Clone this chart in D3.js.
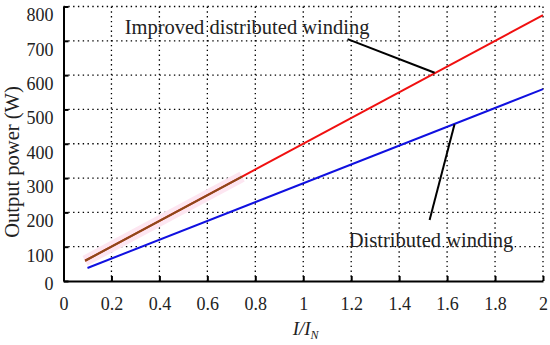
<!DOCTYPE html>
<html>
<head>
<meta charset="utf-8">
<script src="https://cdn.jsdelivr.net/npm/d3@7"></script>
<style>
	body { margin: 0; background: #fff; }
	svg text { font-family: "Liberation Serif", "DejaVu Serif", serif; fill: #222; }
	.grid line { stroke: #000; stroke-width: 1.3; stroke-dasharray: 1.4,3.4; }
	.axis path, .axis line { stroke: #000; stroke-width: 2; }
</style>
</head>
<body>
<div id="chart"></div>
<script>
// x values (I/IN) at both ends of each line, output power in W
var xTicks      = [0, 0.2, 0.4, 0.6, 0.8, 1, 1.2, 1.4, 1.6, 1.8, 2];
var yTicks      = [0, 100, 200, 300, 400, 500, 600, 700, 800];
var improvedX   = [0.09, 2];
var improvedP   = [59, 775];
var overlapX    = [0.09, 0.745];     // brown stretch at the start of the red line
var overlapP    = [59, 304];
var distribX    = [0.1, 2];
var distribP    = [38, 559];
var labels      = ['Improved distributed winding', 'Distributed winding'];
var labelAt     = [[0.255, 719], [1.19, 100]];   // anchor start of text (data coords)
var pointers    = [[[1.185, 705], [1.548, 607]], [[1.527, 178], [1.631, 457]]];

function PowerChart(config) {
	var me = this;
	me.width  = config.width;
	me.height = config.height;
	me.margin = {top: 6.5, right: 7, bottom: 64, left: 63.5};
	me.viewWidth  = me.width  - me.margin.left - me.margin.right;
	me.viewHeight = me.height - me.margin.top  - me.margin.bottom;

	me.svg = d3.select('#' + config.parentId).append('svg')
		.attr('width', me.width)
		.attr('height', me.height);
	me.vis = me.svg.append('g')
		.attr('transform', 'translate(' + me.margin.left + ',' + me.margin.top + ')');

	me.xScale = d3.scaleLinear().domain([0, 2]).range([0, me.viewWidth]);
	me.yScale = d3.scaleLinear().domain([0, 800]).range([me.viewHeight, 0]);

	me.drawGrid();
	me.drawAxes();
	me.drawLines();
	me.drawLabels();
}

PowerChart.prototype.drawGrid = function() {
	var me = this;
	var grid = me.vis.append('g').attr('class', 'grid');
	grid.selectAll('.gx')
		.data(xTicks.slice(1))
		.enter().append('line')
		.attr('x1', function(d) { return me.xScale(d); })
		.attr('x2', function(d) { return me.xScale(d); })
		.attr('y1', 0)
		.attr('y2', me.viewHeight);
	grid.selectAll('.gy')
		.data(yTicks.slice(1))
		.enter().append('line')
		.attr('x1', 0)
		.attr('x2', me.viewWidth)
		.attr('y1', function(d) { return me.yScale(d); })
		.attr('y2', function(d) { return me.yScale(d); });
}

PowerChart.prototype.drawAxes = function() {
	var me = this;

	var xAxis = d3.axisBottom(me.xScale)
		.tickValues(xTicks)
		.tickSizeInner(-5)
		.tickSizeOuter(0)
		.tickPadding(16)
		.tickFormat(function(d) { return d; });
	var yAxis = d3.axisLeft(me.yScale)
		.tickValues(yTicks)
		.tickSizeInner(-5)
		.tickSizeOuter(0)
		.tickPadding(10)
		.tickFormat(function(d) { return d; });

	var gx = me.vis.append('g')
		.attr('class', 'axis')
		.attr('transform', 'translate(0,' + me.viewHeight + ')')
		.call(xAxis);
	var gy = me.vis.append('g')
		.attr('class', 'axis')
		.call(yAxis);
	gx.attr('font-family', null);
	gy.attr('font-family', null);
	gx.selectAll('text').attr('font-size', 18);
	// y labels sit a little below their grid lines, the 0 label less so
	gy.selectAll('text').attr('font-size', 18)
		.attr('dy', function(d) { return d === 0 ? '0.48em' : '0.8em'; });

	// axis titles
	me.svg.append('text')
		.attr('transform', 'translate(19,162) rotate(-90)')
		.attr('text-anchor', 'middle')
		.attr('font-size', 20.5)
		.text('Output power (W)');

	var xt = me.svg.append('text')
		.attr('x', me.margin.left + me.xScale(1.01))
		.attr('y', 335)
		.attr('text-anchor', 'middle')
		.attr('font-size', 19)
		.attr('font-style', 'italic');
	xt.append('tspan').text('I/I');
	xt.append('tspan').attr('dy', 4).attr('font-size', 12).text('N');
}

PowerChart.prototype.drawLines = function() {
	var me = this;
	var line = d3.line()
		.x(function(d) { return me.xScale(d[0]); })
		.y(function(d) { return me.yScale(d[1]); });

	var zip = function(xs, ys) { return xs.map(function(x, i) { return [x, ys[i]]; }); };

	// faint pink halo under the start of the red line
	me.vis.append('path')
		.attr('d', line(zip(overlapX, overlapP)))
		.attr('fill', 'none')
		.attr('stroke', '#fde6f1')
		.attr('stroke-width', 11);

	me.vis.append('path')
		.attr('d', line(zip(distribX, distribP)))
		.attr('fill', 'none')
		.attr('stroke', '#1010e0')
		.attr('stroke-width', 2);
	me.vis.append('path')
		.attr('d', line(zip(improvedX, improvedP)))
		.attr('fill', 'none')
		.attr('stroke', '#f01010')
		.attr('stroke-width', 2);
	me.vis.append('path')
		.attr('d', line(zip(overlapX, overlapP)))
		.attr('fill', 'none')
		.attr('stroke', '#8a4a1a')
		.attr('stroke-width', 2);
}

PowerChart.prototype.drawLabels = function() {
	var me = this;
	pointers.forEach(function(p) {
		me.vis.append('line')
			.attr('x1', me.xScale(p[0][0])).attr('y1', me.yScale(p[0][1]))
			.attr('x2', me.xScale(p[1][0])).attr('y2', me.yScale(p[1][1]))
			.attr('stroke', '#000')
			.attr('stroke-width', 2);
	});
	labels.forEach(function(t, i) {
		me.vis.append('text')
			.attr('x', me.xScale(labelAt[i][0]))
			.attr('y', me.yScale(labelAt[i][1]))
			.attr('font-size', 20.5)
			.text(t);
	});
}

new PowerChart({parentId: 'chart', width: 550, height: 345});
</script>
</body>
</html>
